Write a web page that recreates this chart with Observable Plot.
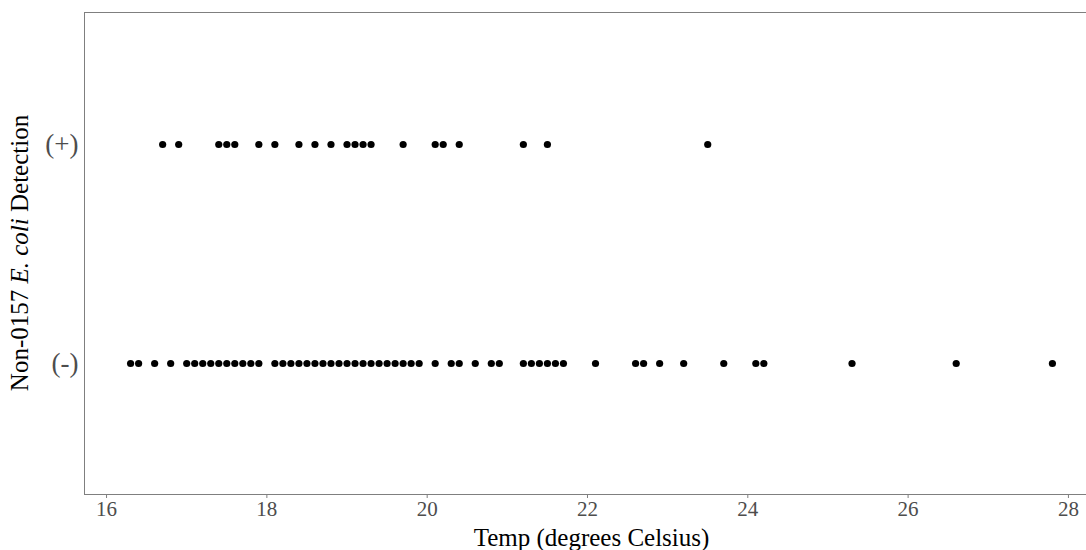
<!DOCTYPE html>
<html>
<head>
<meta charset="utf-8">
<script src="https://cdn.jsdelivr.net/npm/d3@7"></script>
<script src="https://cdn.jsdelivr.net/npm/@observablehq/plot@0.6"></script>
<style>
  html, body { margin: 0; padding: 0; background: #ffffff; }
  #chart svg { display: block; }
</style>
</head>
<body>
<div id="chart"></div>
<script>
// Water temperature (°C) of samples, split by Non-O157 E. coli detection result
const positiveTemps = [16.7, 16.9, 17.4, 17.5, 17.6, 17.9, 18.1, 18.4, 18.6, 18.8, 19.0, 19.1,
  19.2, 19.3, 19.7, 20.1, 20.2, 20.4, 21.2, 21.5, 23.5];
const negativeTemps = [16.3, 16.4, 16.6, 16.8,
  17.0, 17.1, 17.2, 17.3, 17.4, 17.5, 17.6, 17.7, 17.8, 17.9,
  18.1, 18.2, 18.3, 18.4, 18.5, 18.6, 18.7, 18.8, 18.9, 19.0,
  19.1, 19.2, 19.3, 19.4, 19.5, 19.6, 19.7, 19.8, 19.9,
  20.1, 20.3, 20.4, 20.6, 20.8, 20.9,
  21.2, 21.3, 21.4, 21.5, 21.6, 21.7,
  22.1, 22.6, 22.7, 22.9, 23.2, 23.7, 24.1, 24.2, 25.3, 26.6, 27.8];
const detectionLevels = ["(+)", "(-)"];
const xTicks = [16, 18, 20, 22, 24, 26, 28];

const samples = [
  ...positiveTemps.map(temp => ({temp, detection: detectionLevels[0]})),
  ...negativeTemps.map(temp => ({temp, detection: detectionLevels[1]}))
];

// ggplot-style 5% expansion on the continuous axis
const allTemps = samples.map(d => d.temp);
const tMin = d3.min(allTemps), tMax = d3.max(allTemps);
const pad = (tMax - tMin) * 0.05;

const serif = "'Liberation Serif', 'DejaVu Serif', serif";

const chart = Plot.plot({
  width: 1086,
  height: 550,
  marginLeft: 84,
  marginRight: -12,
  marginTop: 12,
  marginBottom: 56,
  style: {fontFamily: serif, background: "#ffffff", overflow: "hidden"},
  x: {domain: [tMin - pad, tMax + pad]},
  y: {type: "point", domain: detectionLevels, padding: 0.6},
  marks: [
    Plot.frame({stroke: "#7f7f7f", strokeWidth: 1}),
    Plot.axisX({
      ticks: xTicks, tickSize: 4, tickPadding: 3, fontSize: 21,
      stroke: "#7f7f7f", fill: "#4d4d4d", label: null
    }),
    Plot.axisY({
      tickSize: 0, tickPadding: 6, fontSize: 27,
      fill: "#4d4d4d", label: null
    }),
    Plot.dot(samples, {x: "temp", y: "detection", r: 3.6, fill: "#000000", stroke: null}),
    Plot.text(["Temp (degrees Celsius)"], {
      frameAnchor: "bottom", dy: 43, lineAnchor: "middle",
      fontSize: 25, fill: "#000000"
    })
  ]
});

// Y axis title with the organism name in italics
const svg = d3.select(chart);
const yTitle = svg.append("text")
  .attr("transform", "translate(22,253) rotate(-90)")
  .attr("text-anchor", "middle")
  .attr("dominant-baseline", "middle")
  .attr("font-family", serif)
  .attr("font-size", 25)
  .attr("fill", "#000000");
yTitle.append("tspan").text("Non-0157 ");
yTitle.append("tspan").attr("font-style", "italic").text("E. coli");
yTitle.append("tspan").text(" Detection");

document.getElementById("chart").appendChild(chart);
</script>
</body>
</html>
